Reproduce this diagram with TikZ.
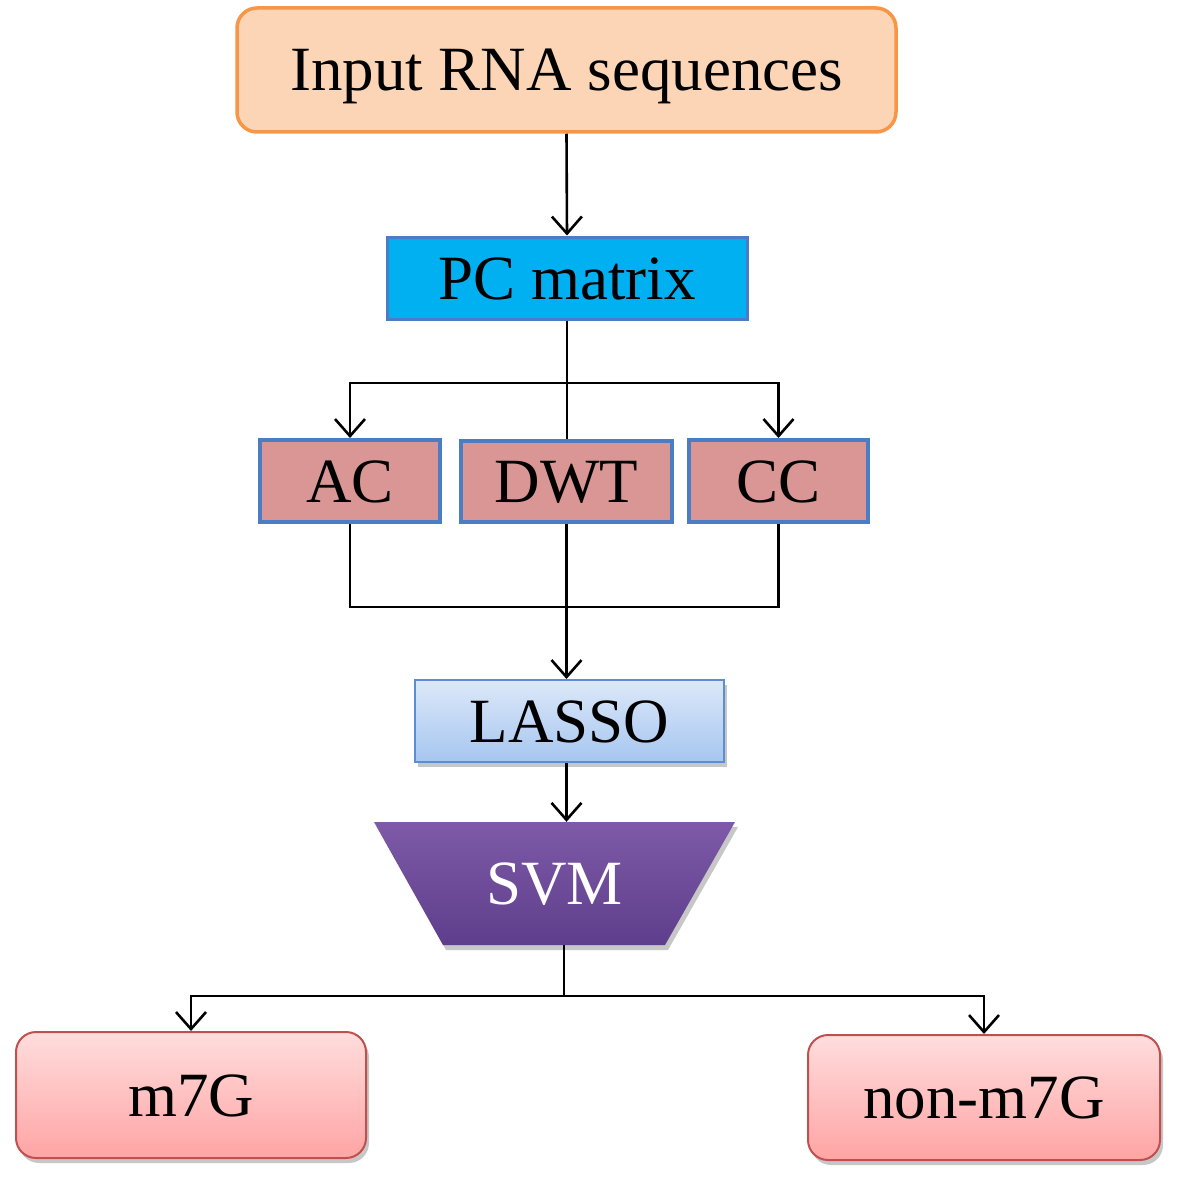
\documentclass[tikz,border=0pt]{standalone}
\usepackage{fontspec}
\setmainfont{Liberation Serif}
\usetikzlibrary{arrows.meta,shadows}
\definecolor{peach}{HTML}{FBD5B5}
\definecolor{orangeb}{HTML}{F79646}
\definecolor{cyanf}{HTML}{00B0F0}
\definecolor{blueb}{HTML}{4A7DC4}
\definecolor{rosef}{HTML}{D99694}
\definecolor{lassotop}{HTML}{DCE8F9}
\definecolor{lassobot}{HTML}{A6C6F0}
\definecolor{lassob}{HTML}{5B8FD2}
\definecolor{svmtop}{HTML}{7E5AA8}
\definecolor{svmbot}{HTML}{5E3E8C}
\definecolor{pinktop}{HTML}{FFDDDD}
\definecolor{pinkbot}{HTML}{FFA4A4}
\definecolor{redb}{HTML}{C0504D}
\begin{document}
\begin{tikzpicture}[x=1pt,y=-1pt,
  box/.style={draw, rectangle, inner sep=0pt, text height=42pt, text depth=0pt,
    font=\fontsize{63}{70}\selectfont},
  conn/.style={draw=black, line width=2.6pt},
  arr/.style={conn, -{Straight Barb[length=17pt,width=30pt,line width=2.6pt]}},
  shad/.style={drop shadow={shadow xshift=3pt,shadow yshift=-5pt,opacity=0.22,fill=black}}]
\useasboundingbox (0,0) rectangle (1176,1180);

\node[box, rounded corners=20pt, fill=peach, draw=orangeb, line width=3.5pt,
  minimum width=659, minimum height=124] (input) at (566.5,70) {Input RNA sequences};
\node[box, fill=cyanf, draw=blueb, line width=3pt,
  minimum width=360, minimum height=82] (pc) at (567,278) {PC matrix};
\node[box, fill=rosef, draw=blueb, line width=4pt,
  minimum width=180, minimum height=82] (ac) at (350,481) {AC};
\node[box, fill=rosef, draw=blueb, line width=4pt,
  minimum width=211, minimum height=81] (dwt) at (566.5,481.5) {DWT};
\node[box, fill=rosef, draw=blueb, line width=4pt,
  minimum width=179, minimum height=82] (cc) at (778.5,481) {CC};
\node[box, shad, top color=lassotop, bottom color=lassobot, draw=lassob, line width=2pt,
  minimum width=309, minimum height=82] (lasso) at (569.5,721) {LASSO};

\path[shad, top color=svmtop, bottom color=svmbot]
  (374,822) -- (735,822) -- (665,945) -- (443,945) -- cycle;
\node[box, draw=none, text=white, minimum width=222, minimum height=123] (svm) at (554.5,883.5) {SVM};

\node[box, shad, rounded corners=20pt, top color=pinktop, bottom color=pinkbot, draw=redb, line width=2pt,
  minimum width=350, minimum height=126] (m7g) at (191,1095) {m7G};
\node[box, shad, rounded corners=20pt, top color=pinktop, bottom color=pinkbot, draw=redb, line width=2pt,
  minimum width=352, minimum height=125] (non) at (984,1097.5) {non-m7G};

\coordinate (split1) at (567,383);
\coordinate (merge) at (566,607);
\coordinate (split2) at (564,996);

\draw[arr] (input.south) -- (pc.north);
\draw[conn] (pc.south) -- (pc.south |- dwt.north);
\draw[arr] (split1) -| (ac.north);
\draw[arr] (split1) -| (cc.north);
\draw[conn] (ac.south) |- (merge) -| (cc.south);
\draw[arr] (dwt.south) -- (dwt.south |- lasso.north);
\draw[arr] (dwt.south |- lasso.south) -- (dwt.south |- svm.north);
\draw[conn] (split2 |- svm.south) -- (split2);
\draw[arr] (split2) -| (m7g.north);
\draw[arr] (split2) -| (non.north);
\end{tikzpicture}
\end{document}
